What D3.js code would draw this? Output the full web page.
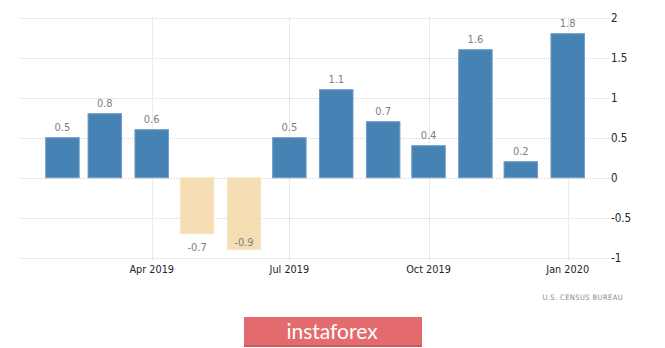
<!DOCTYPE html>
<html><head><meta charset="utf-8">
<script src="https://cdn.jsdelivr.net/npm/d3@7"></script>
<style>
html,body{margin:0;padding:0;background:#fff;}
svg{display:block;font-family:"DejaVu Sans Condensed","DejaVu Sans",sans-serif;font-stretch:condensed;}
</style></head>
<body>
<svg id="c" width="665" height="348"></svg>
<script>
const months = ["2019-02-01","2019-03-01","2019-04-01","2019-05-01","2019-06-01","2019-07-01","2019-08-01","2019-09-01","2019-10-01","2019-11-01","2019-12-01","2020-01-01"];
const values = [0.5,0.8,0.6,-0.7,-0.9,0.5,1.1,0.7,0.4,1.6,0.2,1.8];
const xTickDates = ["2019-04-01","2019-07-01","2019-10-01","2020-01-01"];
const xTickLabels = ["Apr 2019","Jul 2019","Oct 2019","Jan 2020"];
const yTicks = [2,1.5,1,0.5,0,-0.5,-1];
const yTickLabels = ["2","1.5","1","0.5","0","-0.5","-1"];
const source = "U.S. CENSUS BUREAU";
const watermark = "instaforex";

const parse = d3.utcParse("%Y-%m-%d");
const svg = d3.select("#c");
const plotL = 20, plotR = 610;
const x = d3.scaleUtc().domain([parse("2019-04-01"), parse("2020-01-01")]).range([151.7, 567.7]);
const y = d3.scaleLinear().domain([-1, 2]).range([257.7, 17.7]);
const barW = 33.5;

// horizontal grid
svg.append("g").selectAll("line").data(yTicks).join("line")
  .attr("x1", plotL).attr("x2", plotR)
  .attr("y1", d => Math.round(y(d)) + 0.5).attr("y2", d => Math.round(y(d)) + 0.5)
  .attr("stroke", "#d6d6d6").attr("stroke-width", 1).attr("stroke-dasharray", "1,1");
// vertical grid
svg.append("g").selectAll("line").data(xTickDates).join("line")
  .attr("x1", d => Math.round(x(parse(d))) + 0.5).attr("x2", d => Math.round(x(parse(d))) + 0.5)
  .attr("y1", y(2)).attr("y2", y(-1) + 3)
  .attr("stroke", "#d6d6d6").attr("stroke-width", 1).attr("stroke-dasharray", "1,1");

// bars
svg.append("g").selectAll("rect").data(values).join("rect")
  .attr("x", (d, i) => x(parse(months[i])) - barW / 2)
  .attr("width", barW)
  .attr("y", d => y(Math.max(0, d)))
  .attr("height", d => Math.abs(y(d) - y(0)))
  .attr("fill", d => d >= 0 ? "#4682b4" : "#f5deb3")
  .attr("stroke", d => d >= 0 ? "#6f9cc6" : "#f8e6c6").attr("stroke-width", 1);

// value labels
svg.append("g").selectAll("text").data(values).join("text")
  .attr("x", (d, i) => x(parse(months[i])))
  .attr("y", d => {
    if (d >= 0) return y(d) - 7;
    const below = y(d) + 17;
    return below > y(-1) ? y(d) - 4 : below;
  })
  .attr("text-anchor", "middle")
  .attr("font-size", 11).attr("fill", "#808080")
  .text(d => d);

// y tick labels
svg.append("g").selectAll("text").data(yTicks).join("text")
  .attr("x", 611).attr("y", d => y(d) + 4)
  .attr("font-size", 11.5).attr("fill", "#222233")
  .text((d, i) => yTickLabels[i]);

// x tick labels
svg.append("g").selectAll("text").data(xTickDates).join("text")
  .attr("x", d => x(parse(d))).attr("y", 273)
  .attr("text-anchor", "middle")
  .attr("font-size", 10.8).attr("fill", "#222233")
  .text((d, i) => xTickLabels[i]);

// source
svg.append("text").attr("x", 623).attr("y", 299.5).attr("text-anchor", "end")
  .attr("font-size", 7.5).attr("fill", "#8a8a8a").attr("letter-spacing", 0.4)
  .text(source);

// watermark
svg.append("rect").attr("x", 244).attr("y", 317).attr("width", 178).attr("height", 30)
  .attr("fill", "#e46b6d");
svg.append("rect").attr("x", 244).attr("y", 345).attr("width", 178).attr("height", 2)
  .attr("fill", "#c95a5c");
svg.append("text").attr("x", 332).attr("y", 338.5).attr("text-anchor", "middle")
  .attr("font-size", 21).attr("fill", "#fff").attr("font-family", "Lato, sans-serif")
  .text(watermark);
</script>
</body></html>
